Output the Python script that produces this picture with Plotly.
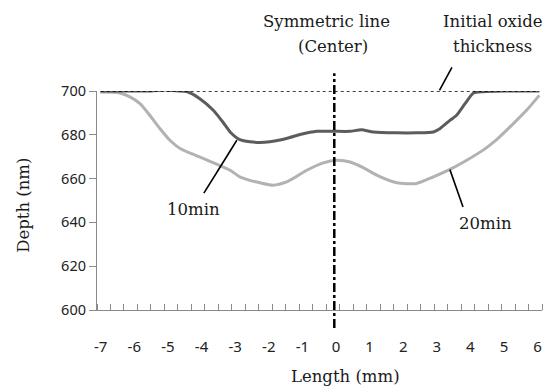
import plotly.graph_objects as go

# ---- data ----
x_10min = [-7.0, -6.5, -6.0, -5.5, -5.1, -4.7, -4.44, -4.05, -3.65, -3.35, -3.15, -2.86, -2.56, -2.26,
           -1.97, -1.67, -1.37, -1.07, -0.57, -0.05, 0.42, 0.76, 1.11, 1.81, 2.4, 2.9, 3.1, 3.39,
           3.59, 3.84, 4.09, 4.38, 5.0, 5.5, 6.05]
y_10min = [700, 700, 700, 700, 700.5, 700, 699.8, 696.5, 691.2, 685.5, 681.3, 677.8, 676.8, 676.5,
           676.8, 677.6, 678.8, 680.1, 681.6, 681.6, 681.6, 682.3, 681.3, 680.9, 680.9, 681.3, 682.9, 686.6,
           688.9, 694.2, 699.1, 699.7, 700, 700, 700]

x_20min = [-7.02, -6.43, -6.13, -5.83, -5.54, -5.24, -4.94, -4.64, -4.35, -3.95, -3.55, -3.15, -2.86,
           -2.56, -2.26, -1.87, -1.47, -1.17, -0.87, -0.38, 0.02, 0.42, 0.81, 1.21, 1.81, 2.4, 2.9,
           3.39, 3.89, 4.38, 4.78, 5.08, 5.33, 5.67, 6.05]
y_20min = [699.5, 699.1, 697.3, 694.2, 688.9, 682.9, 677.5, 673.7, 671.7, 669.2, 666.6, 663.8, 660.8,
           659.2, 658.1, 657.0, 658.5, 661.0, 663.8, 667.2, 668.4, 667.6, 665.0, 661.6, 658.1, 657.8, 660.8,
           664.2, 668.4, 673.0, 677.8, 682.1, 685.9, 691.2, 698.0]

initial_x = [-7.0, 6.05]
initial_y = [700, 700]

x_ticks = [-7, -6, -5, -4, -3, -2, -1, 0, 1, 2, 3, 4, 5, 6]
y_ticks = [600, 620, 640, 660, 680, 700]

center_x = -0.05

# axis ranges
XR = [-7.11, 6.13]
YR = [600, 700]


def px(x):
    return (x - XR[0]) / (XR[1] - XR[0])


def py(y):
    return (y - YR[0]) / (YR[1] - YR[0])


SERIF = "DejaVu Serif"
SANS = "Noto Sans"

fig = go.Figure()
fig.add_trace(go.Scatter(x=x_20min, y=y_20min, mode="lines",
                         line=dict(color="#b2b2b2", width=3, shape="spline", smoothing=0.6),
                         name="20min", showlegend=False, hoverinfo="skip"))
fig.add_trace(go.Scatter(x=x_10min, y=y_10min, mode="lines",
                         line=dict(color="#5c5c5c", width=3, shape="spline", smoothing=0.6),
                         name="10min", showlegend=False, hoverinfo="skip"))
fig.add_trace(go.Scatter(x=initial_x, y=initial_y, mode="lines",
                         line=dict(color="black", width=1.5, dash="dot"),
                         name="Initial", showlegend=False, hoverinfo="skip"))

shapes = [
    # symmetric (center) line
    dict(type="line", xref="paper", yref="paper", x0=px(center_x), x1=px(center_x),
         y0=py(591.8), y1=py(708.1), line=dict(color="black", width=2.5, dash="dashdot")),
    # leader lines
    dict(type="line", xref="paper", yref="paper", x0=px(3.08), y0=py(700.3), x1=px(3.45), y1=py(710.8),
         line=dict(color="black", width=1.6)),
    dict(type="line", xref="paper", yref="paper", x0=px(-3.93), y0=py(653.4), x1=px(-2.95), y1=py(677.5),
         line=dict(color="black", width=1.6)),
    dict(type="line", xref="paper", yref="paper", x0=px(3.39), y0=py(664.1), x1=px(3.78), y1=py(647.0),
         line=dict(color="black", width=1.6)),
]

annos = [
    dict(text="Symmetric line", x=px(-0.27), y=py(700 + (90.7 - 21) / 2.193)),
    dict(text="(Center)", x=px(-0.1), y=py(700 + (90.7 - 46) / 2.193)),
    dict(text="Initial oxide", x=px(4.68), y=py(700 + (90.7 - 21) / 2.193)),
    dict(text="thickness", x=px(4.66), y=py(700 + (90.7 - 46) / 2.193)),
    dict(text="10min", x=px(-4.25), y=py(645.9)),
    dict(text="20min", x=px(4.46), y=py(639.5)),
]
annotations = []
for a in annos:
    a.update(xref="paper", yref="paper", showarrow=False, xanchor="center", yanchor="middle",
             font=dict(family=SERIF, size=16.5, color="#1a1a1a"))
    annotations.append(a)

annotations.append(dict(text="Depth (nm)", textangle=-90, xref="paper", yref="paper",
                        x=(23 - 97.3) / 444.7, y=(310 - 205) / 219.3, showarrow=False,
                        xanchor="center", yanchor="middle",
                        font=dict(family=SERIF, size=16.5, color="#1a1a1a")))
annotations.append(dict(text="Length (mm)", xref="paper", yref="paper",
                        x=(346 - 97.3) / 444.7, y=(310 - 388.5) / 219.3, showarrow=False,
                        xanchor="center", yanchor="bottom",
                        font=dict(family=SERIF, size=16.5, color="#1a1a1a")))

fig.update_layout(
    width=555, height=389,
    margin=dict(l=97, r=13, t=91, b=79),
    paper_bgcolor="white", plot_bgcolor="white",
    shapes=shapes, annotations=annotations,
    showlegend=False,
    xaxis=dict(range=XR, showgrid=False, zeroline=False, showline=True, linecolor="#8a8a8a",
               linewidth=1.2, tickvals=x_ticks, ticktext=[str(v) for v in x_ticks],
               ticks="outside", ticklen=23, tickcolor="rgba(0,0,0,0)",
               tickfont=dict(family=SANS, size=15, color="#222"),
               minor=dict(ticks="inside", tick0=XR[0], dtick=(XR[1] - XR[0]) / 33,
                          ticklen=6, tickcolor="#8a8a8a", showgrid=False)),
    yaxis=dict(range=YR, showgrid=False, zeroline=False, showline=True, linecolor="#8a8a8a",
               linewidth=1.2, tickvals=y_ticks, ticks="outside", ticklen=7, tickcolor="#8a8a8a",
               tickfont=dict(family=SANS, size=14.5, color="#222")),
)

fig.write_html("out.html", config={"displayModeBar": False},
               post_script="document.body.style.margin='0';document.body.style.overflow='hidden';")
